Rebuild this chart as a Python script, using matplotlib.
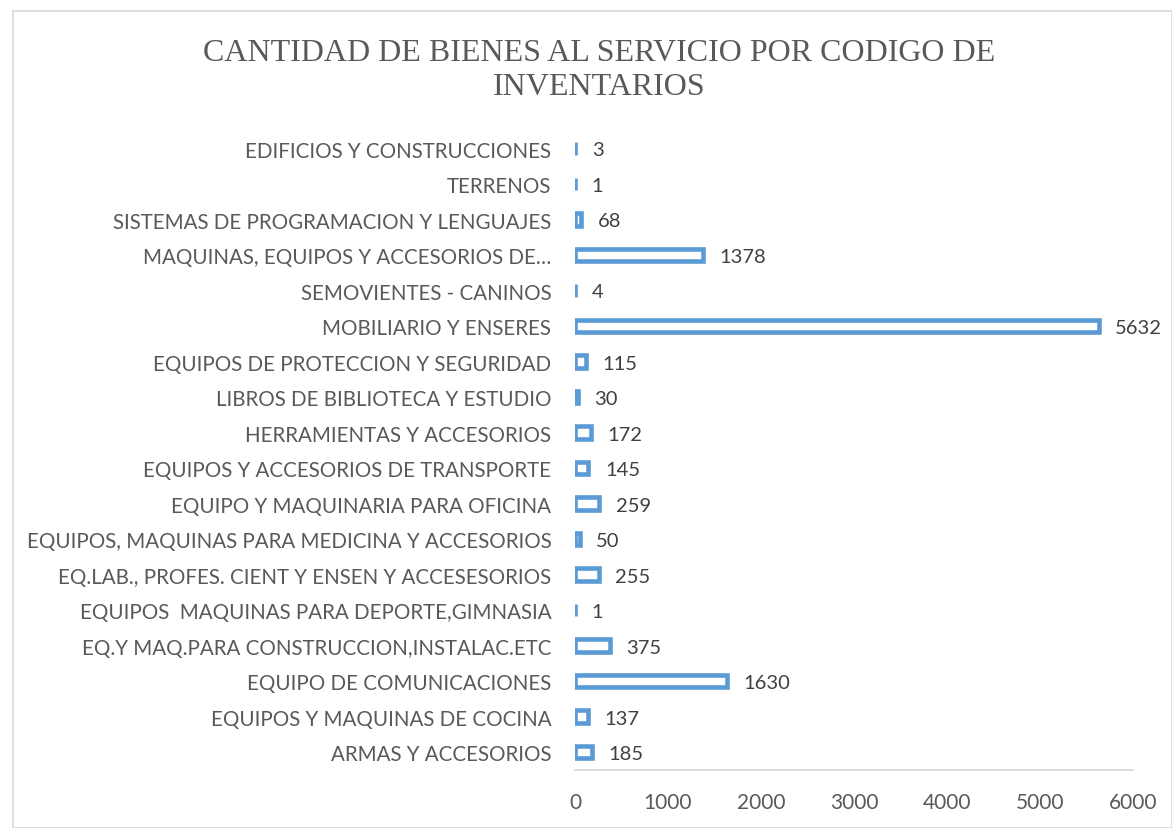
import matplotlib
matplotlib.use('Agg')
import matplotlib.pyplot as plt
from matplotlib.patches import Rectangle

# categories from bottom to top, as in the source sheet
categorias = [
    'ARMAS Y ACCESORIOS',
    'EQUIPOS Y MAQUINAS DE COCINA',
    'EQUIPO DE COMUNICACIONES',
    'EQ.Y MAQ.PARA CONSTRUCCION,INSTALAC.ETC',
    'EQUIPOS  MAQUINAS PARA DEPORTE,GIMNASIA',
    'EQ.LAB., PROFES. CIENT Y ENSEN Y ACCESESORIOS',
    'EQUIPOS, MAQUINAS PARA MEDICINA Y ACCESORIOS',
    'EQUIPO Y MAQUINARIA PARA OFICINA',
    'EQUIPOS Y ACCESORIOS DE TRANSPORTE',
    'HERRAMIENTAS Y ACCESORIOS',
    'LIBROS DE BIBLIOTECA Y ESTUDIO',
    'EQUIPOS DE PROTECCION Y SEGURIDAD',
    'MOBILIARIO Y ENSERES',
    'SEMOVIENTES - CANINOS',
    'MAQUINAS, EQUIPOS Y ACCESORIOS DE…',
    'SISTEMAS DE PROGRAMACION Y LENGUAJES',
    'TERRENOS',
    'EDIFICIOS Y CONSTRUCCIONES',
]
cantidades = [185, 137, 1630, 375, 1, 255, 50, 259, 145, 172, 30, 115, 5632, 4, 1378, 68, 1, 3]
ticks_x = [0, 1000, 2000, 3000, 4000, 5000, 6000]

azul = '#5B9BD5'
gris = '#595959'
fuente = ['Lato', 'DejaVu Sans']

fig = plt.figure(figsize=(11.72, 8.29), dpi=100)
ax = fig.add_axes([0.4906, 0.070, 0.476, 0.771])

pos = range(len(categorias))
ax.barh(pos, cantidades, height=0.35, color='white', edgecolor=azul, linewidth=3.3)

for y, v in zip(pos, cantidades):
    ax.annotate(str(v), (v, y), xytext=(12, -1), textcoords='offset points',
                va='center', ha='left', fontsize=14.5, color='#404040', family=fuente)

ax.set_xlim(0, 6000)
ax.set_ylim(-0.5, len(categorias) - 0.5)
ax.set_yticks(list(pos))
ax.set_yticklabels(categorias, fontsize=14.8, color=gris, family=fuente)
ax.set_xticks(ticks_x)
ax.set_xticklabels([str(t) for t in ticks_x], fontsize=15, color=gris, family=fuente)
ax.tick_params(axis='both', length=0)
ax.tick_params(axis='y', pad=17)
ax.tick_params(axis='x', pad=16)
for s in ['top', 'right', 'left']:
    ax.spines[s].set_visible(False)
ax.spines['bottom'].set_color('#D9D9D9')
ax.spines['bottom'].set_linewidth(1.3)

fig.text(0.511, 0.915, 'CANTIDAD DE BIENES AL SERVICIO POR CODIGO DE\nINVENTARIOS',
         ha='center', va='center', fontsize=23, color=gris,
         family=['Liberation Serif', 'DejaVu Serif'], linespacing=1.2)

fig.patches.append(Rectangle((13 / 1172, 0), 1 - 13 / 1172, 1 - 12 / 829,
                             transform=fig.transFigure, fill=False,
                             edgecolor='#D9D9D9', linewidth=1.2))

fig.savefig('out.png', dpi=100)
